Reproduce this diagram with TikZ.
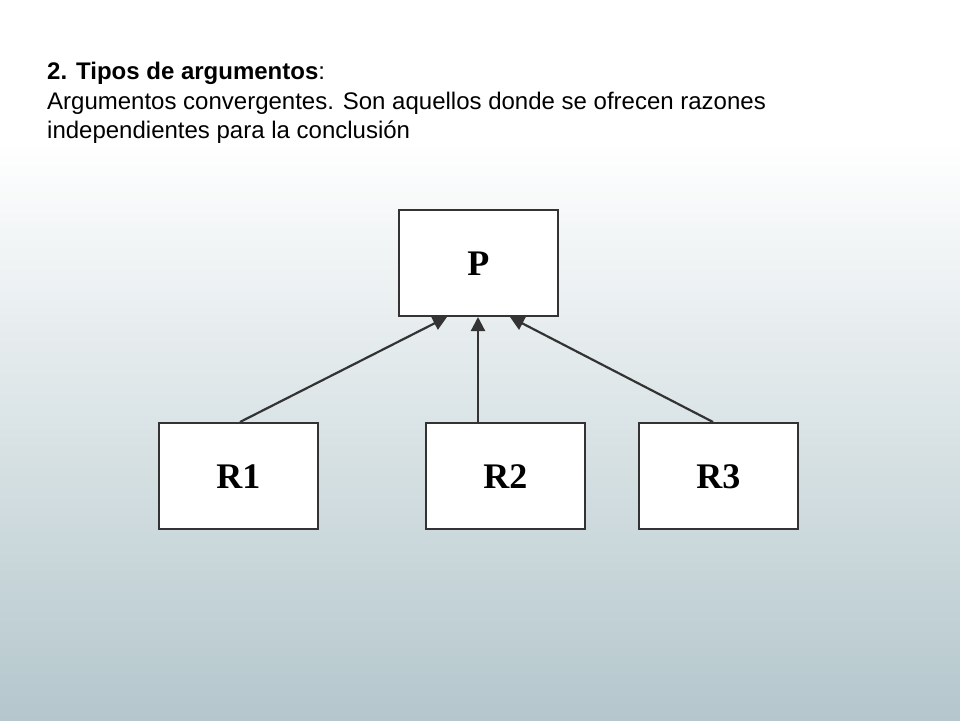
\documentclass[tikz,border=0pt]{standalone}
\usepackage{fontspec}
\setmainfont{Liberation Serif}
\newfontfamily\arial{Liberation Sans}
\usetikzlibrary{arrows.meta}
\definecolor{bgbot}{RGB}{180,199,204}
\begin{document}
\begin{tikzpicture}[x=1pt,y=-1pt,
  box/.style={draw=black!80,line width=1.6pt,fill=white,minimum width=159pt,minimum height=106pt,font=\fontsize{36}{40}\selectfont\bfseries,anchor=north west,inner sep=0pt,text height=25pt,text depth=0pt},
  arr/.style={line width=2.2pt,draw=black!80,-{Triangle[length=14pt,width=14pt]}}]
\useasboundingbox (0,0) rectangle (960,720);
\fill[white] (0,0) rectangle (960,140);
\shade[top color=white,bottom color=bgbot] (0,140) rectangle (960,720);
\node[anchor=north west,align=left,font=\arial\fontsize{24}{29.5}\selectfont,inner sep=0pt] (t) at (47,62) {\textbf{2. Tipos de argumentos}:\\Argumentos convergentes. Son aquellos donde se ofrecen razones\\independientes para la conclusión};
\node[box] (P) at (398,209) {P};
\node[box] (R1) at (158,422) {R1};
\node[box] (R2) at (425,422) {R2};
\node[box] (R3) at (638,422) {R3};
\coordinate (a1) at (240,422); \coordinate (b1) at (447,317);
\coordinate (a2) at (478,422); \coordinate (b2) at (478,317);
\coordinate (a3) at (713,422); \coordinate (b3) at (510,317);
\draw[arr] (a1) -- (b1);
\draw[arr] (a2) -- (b2);
\draw[arr] (a3) -- (b3);
\end{tikzpicture}
\end{document}
